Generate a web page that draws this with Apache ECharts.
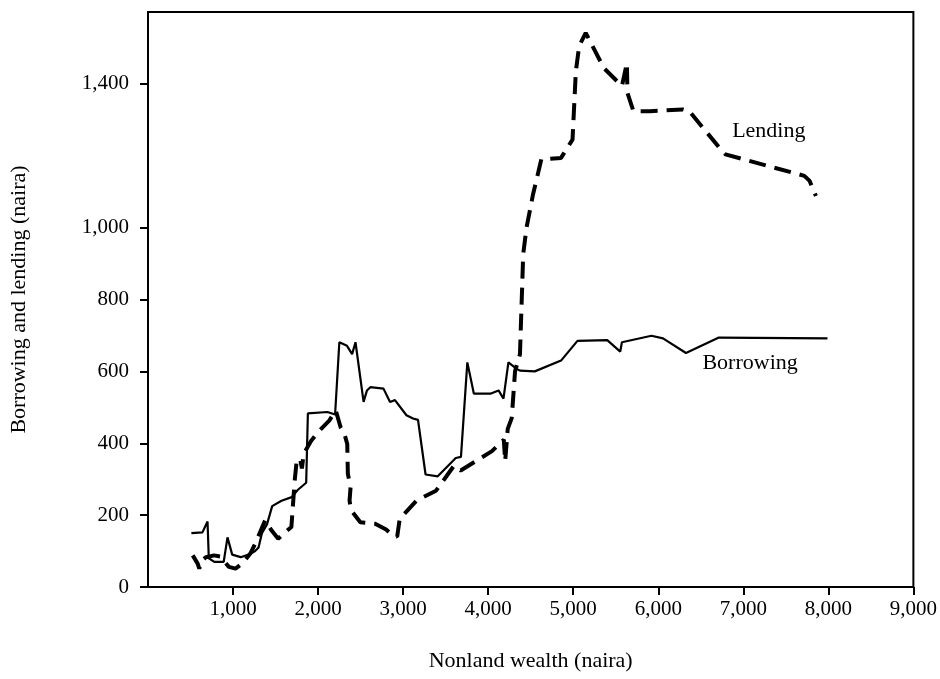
<!DOCTYPE html>
<html>
<head>
<meta charset="utf-8">
<title>Borrowing and lending by nonland wealth</title>
<script src="https://cdn.jsdelivr.net/npm/echarts@6/dist/echarts.min.js"></script>
<style>
  html, body { margin: 0; padding: 0; background: #fff; }
  #chart { width: 940px; height: 679px; }
</style>
</head>
<body>
<div id="chart"></div>
<script>
// 借入 (solid) : [nonland wealth, naira]
var borrowing = [
  [510, 150], [640, 152], [700, 182], [715, 80], [780, 70], [890, 70], [935, 138], [990, 90],
  [1090, 83], [1200, 92], [1260, 100], [1300, 110], [1340, 150], [1400, 175], [1460, 225],
  [1570, 240], [1690, 250], [1760, 270], [1860, 290], [1880, 483], [2110, 487], [2200, 480],
  [2250, 681], [2340, 671], [2400, 648], [2440, 681], [2535, 515], [2575, 547], [2614, 556],
  [2769, 552], [2846, 515], [2904, 520], [3039, 478], [3117, 469], [3175, 465], [3264, 313],
  [3407, 308], [3619, 359], [3680, 362], [3755, 625], [3832, 538], [4026, 538], [4122, 547],
  [4180, 524], [4238, 625], [4335, 607], [4374, 602], [4548, 600], [4857, 630], [5050, 685],
  [5400, 687], [5553, 655], [5573, 681], [5920, 699], [6056, 692], [6326, 651], [6713, 694],
  [7990, 692]
];
// 贷出 (dashed)
var lending = [
  [526, 88], [584, 65], [603, 51], [640, 75], [681, 83], [777, 88], [850, 85], [951, 56],
  [1029, 51], [1106, 65], [1203, 93], [1261, 121], [1377, 185], [1454, 157], [1531, 134],
  [1600, 150], [1686, 167], [1725, 296], [1750, 355], [1790, 355], [1810, 330], [1830, 370],
  [1919, 407], [2015, 435], [2131, 463], [2208, 491], [2266, 444], [2305, 430], [2343, 398],
  [2350, 315], [2382, 278], [2370, 240], [2390, 213], [2497, 180], [2671, 176], [2800, 160],
  [2870, 145], [2930, 140], [2960, 190], [3000, 200], [3155, 240], [3387, 268], [3503, 306],
  [3600, 338], [3677, 324], [3852, 350], [4045, 378], [4184, 410], [4200, 350], [4230, 440],
  [4277, 470], [4316, 600], [4374, 648], [4412, 926], [4451, 1000], [4528, 1093], [4625, 1190],
  [4857, 1194], [4992, 1245], [5031, 1435], [5070, 1505], [5147, 1542], [5360, 1444],
  [5573, 1394], [5631, 1458], [5638, 1375], [5708, 1324], [5901, 1324], [6288, 1329],
  [6365, 1324], [6752, 1213], [6790, 1204], [7718, 1144], [7780, 1130], [7854, 1088]
];
var xTicks = [1000, 2000, 3000, 4000, 5000, 6000, 7000, 8000, 9000];
var yTicks = [0, 200, 400, 600, 800, 1000, 1400];   // 1,200 没有标出
var lendingLabel = [7300, 1269];
var borrowingLabel = [7080, 624];

var font = '"Liberation Serif", "DejaVu Serif", serif';

function comma(v) {
  return String(v).replace(/\B(?=(\d{3})+(?!\d))/g, ',');
}

var myChart = echarts.init(document.getElementById('chart'));
myChart.setOption({
  animation: false,
  grid: {
    left: 148, right: 16, top: 12, bottom: 92,
    show: true,
    borderColor: '#000',
    borderWidth: 2
  },
  xAxis: {
    type: 'value',
    min: 0, max: 9000, interval: 1000,
    name: 'Nonland wealth (naira)',
    nameLocation: 'middle',
    nameGap: 63,
    nameTextStyle: { fontFamily: font, fontSize: 22, color: '#000' },
    axisLine: { lineStyle: { color: '#000', width: 2 } },
    axisTick: { customValues: xTicks, length: 8, lineStyle: { color: '#000', width: 2 } },
    axisLabel: {
      customValues: xTicks,
      margin: 12,
      fontFamily: font, fontSize: 21, color: '#000',
      formatter: comma
    },
    splitLine: { show: false }
  },
  yAxis: {
    type: 'value',
    min: 0, max: 1600, interval: 200,
    name: 'Borrowing and lending (naira)',
    nameLocation: 'middle',
    nameGap: 118,
    nameTextStyle: { fontFamily: font, fontSize: 22, color: '#000' },
    axisLine: { lineStyle: { color: '#000', width: 2 } },
    axisTick: { customValues: yTicks, length: 8, lineStyle: { color: '#000', width: 2 } },
    axisLabel: {
      customValues: yTicks,
      margin: 19,
      fontFamily: font, fontSize: 21, color: '#000',
      formatter: comma
    },
    splitLine: { show: false }
  },
  series: [
    {
      name: 'Borrowing',
      type: 'line',
      data: borrowing,
      showSymbol: false,
      lineStyle: { color: '#000', width: 2.2 },
      markPoint: {
        symbol: 'rect', symbolSize: 0,
        label: {
          show: true, position: 'inside', formatter: 'Borrowing',
          fontFamily: font, fontSize: 22, color: '#000'
        },
        data: [{ coord: borrowingLabel }]
      }
    },
    {
      name: 'Lending',
      type: 'line',
      data: lending,
      showSymbol: false,
      lineStyle: { color: '#000', width: 4, type: [17, 9] },
      markPoint: {
        symbol: 'rect', symbolSize: 0,
        label: {
          show: true, position: 'inside', formatter: 'Lending',
          fontFamily: font, fontSize: 22, color: '#000'
        },
        data: [{ coord: lendingLabel }]
      }
    }
  ]
});
</script>
</body>
</html>
